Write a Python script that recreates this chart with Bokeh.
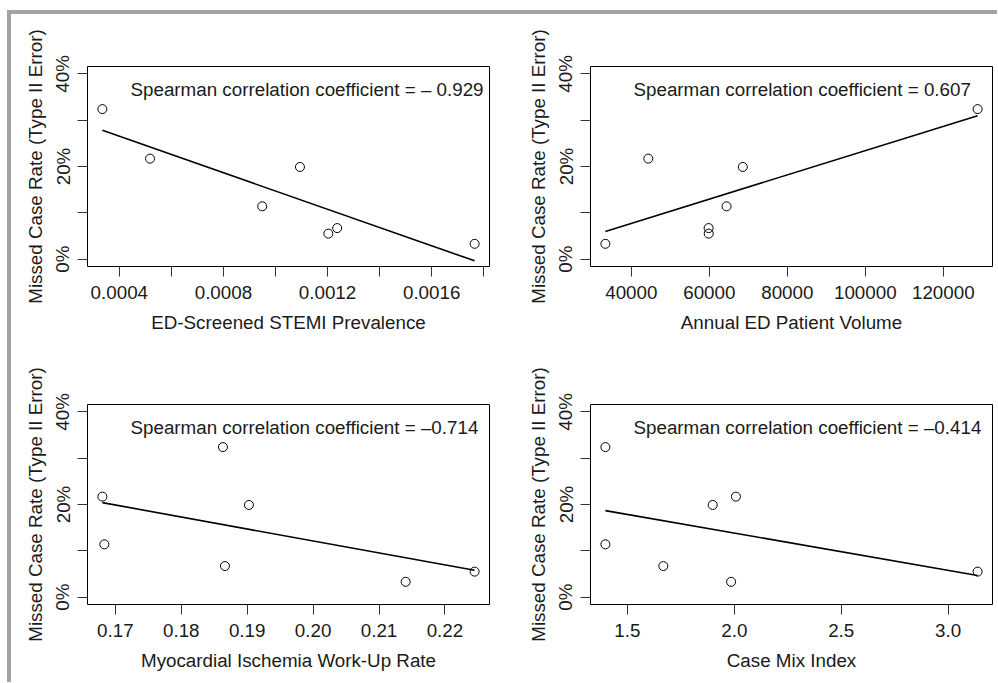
import numpy as np
from bokeh.plotting import figure
from bokeh.layouts import column, row
from bokeh.models import FixedTicker, Label, Range1d
from bokeh.embed import file_html
from bokeh.resources import INLINE

# ---------------- data ----------------
missed_rate = [32.4, 21.7, 19.9, 11.4, 5.5, 6.7, 3.3]   # % missed cases (Type II error)

stemi_prev = [0.000335, 0.000518, 0.001094, 0.000949, 0.001203, 0.001237, 0.001765]
ed_volume = [128800, 44350, 68590, 64420, 59850, 59820, 33350]
workup_rate = [0.18632, 0.16803, 0.19026, 0.16833, 0.22450, 0.18662, 0.21404]
case_mix = [1.397, 2.0075, 1.899, 1.397, 3.138, 1.668, 1.985]

spearman_texts = [
    "Spearman correlation coefficient = \u2013 0.929",
    "Spearman correlation coefficient = 0.607",
    "Spearman correlation coefficient = \u20130.714",
    "Spearman correlation coefficient = \u20130.414",
]
x_titles = [
    "ED-Screened STEMI Prevalence",
    "Annual ED Patient Volume",
    "Myocardial Ischemia Work-Up Rate",
    "Case Mix Index",
]
y_title = "Missed Case Rate (Type II Error)"

x1_ticks = [0.0004, 0.0006, 0.0008, 0.0010, 0.0012, 0.0014, 0.0016, 0.0018]
x1_labels = ["0.0004", "", "0.0008", "", "0.0012", "", "0.0016", ""]
x2_ticks = [40000, 60000, 80000, 100000, 120000]
x2_labels = ["40000", "60000", "80000", "100000", "120000"]
x3_ticks = [0.17, 0.18, 0.19, 0.20, 0.21, 0.22]
x3_labels = ["0.17", "0.18", "0.19", "0.20", "0.21", "0.22"]
x4_ticks = [1.5, 2.0, 2.5, 3.0]
x4_labels = ["1.5", "2.0", "2.5", "3.0"]

y_ticks = [0, 10, 20, 30, 40]
y_labels = ["0%", "", "20%", "", "40%"]
y_limits = [0, 40]

FONT = "Liberation Sans"
FS = "18.8px"
TXT = "#1a1a1a"


def make_panel(xs, ys, xticks, xlabels, xtitle, stext, border_left, border_right,
               border_top, border_bottom):
    fw, fh = 402, 200
    xs = np.asarray(xs, dtype=float)
    ys = np.asarray(ys, dtype=float)
    xr = xs.max() - xs.min()
    x_lo, x_hi = xs.min() - 0.04 * xr, xs.max() + 0.04 * xr
    yr = y_limits[1] - y_limits[0]
    y_lo, y_hi = y_limits[0] - 0.04 * yr, y_limits[1] + 0.04 * yr

    p = figure(width=border_left + fw + border_right,
               height=border_top + fh + border_bottom,
               output_backend="svg", toolbar_location=None,
               x_range=Range1d(x_lo, x_hi), y_range=Range1d(y_lo, y_hi),
               min_border_left=border_left, min_border_right=border_right,
               min_border_top=border_top, min_border_bottom=border_bottom)
    p.xgrid.visible = False
    p.ygrid.visible = False
    p.outline_line_color = "black"
    p.outline_line_width = 1
    p.background_fill_color = "white"
    p.border_fill_color = None

    # regression line (least squares)
    slope, intercept = np.polyfit(xs, ys, 1)
    lx = np.array([xs.min(), xs.max()])
    p.line(lx, slope * lx + intercept, line_color="black", line_width=1.6)

    p.scatter(xs, ys, size=9, fill_color=None, line_color="black", line_width=1)

    for ax, ticks, labels, title in ((p.xaxis[0], xticks, xlabels, xtitle),
                                     (p.yaxis[0], y_ticks, y_labels, y_title)):
        ax.ticker = FixedTicker(ticks=ticks)
        ax.major_label_overrides = {t: l for t, l in zip(ticks, labels)}
        ax.minor_tick_line_color = None
        ax.major_tick_in = 0
        ax.major_tick_out = 10
        ax.major_tick_line_color = "#333333"
        ax.axis_line_color = None
        ax.major_label_text_font = FONT
        ax.major_label_text_font_size = FS
        ax.major_label_text_color = TXT
        ax.axis_label = title
        ax.axis_label_text_font = FONT
        ax.axis_label_text_font_size = FS
        ax.axis_label_text_font_style = "normal"
        ax.axis_label_text_color = TXT

    p.xaxis.major_label_standoff = 9
    p.xaxis.axis_label_standoff = 10
    p.yaxis.major_label_orientation = "vertical"
    p.yaxis.major_label_standoff = 4
    p.yaxis.axis_label_standoff = 4

    p.add_layout(Label(x=x_lo, y=y_hi, x_offset=43, y_offset=-23, text=stext,
                       text_font=FONT, text_font_size=FS, text_color=TXT,
                       text_baseline="middle", text_align="left"))
    return p


p1 = make_panel(stemi_prev, missed_rate, x1_ticks, x1_labels, x_titles[0],
                spearman_texts[0], 76, 20, 52, 72)
p2 = make_panel(ed_volume, missed_rate, x2_ticks, x2_labels, x_titles[1],
                spearman_texts[1], 81, 5, 52, 72)
p3 = make_panel(workup_rate, missed_rate, x3_ticks, x3_labels, x_titles[2],
                spearman_texts[2], 76, 20, 66, 78)
p4 = make_panel(case_mix, missed_rate, x4_ticks, x4_labels, x_titles[3],
                spearman_texts[3], 81, 5, 66, 78)

layout = column(row(p1, p2), row(p3, p4),
                styles={"border-top": "4px solid #a3a3a3",
                        "border-left": "4px solid #a3a3a3",
                        "margin-left": "7px",
                        "margin-top": "10px",
                        "background-color": "white"})

open("out.html", "w").write(file_html(layout, INLINE))
